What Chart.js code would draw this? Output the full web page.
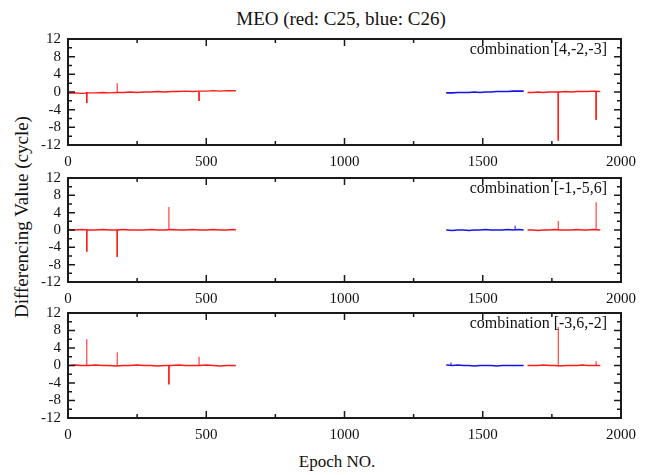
<!DOCTYPE html>
<html>
<head>
<meta charset="utf-8">
<script src="https://cdn.jsdelivr.net/npm/chart.js@4"></script>
<style>
  body { margin: 0; background: #fff; }
  #page { position: relative; width: 651px; height: 475px; overflow: hidden; font-family: "Liberation Serif", "Times New Roman", serif; color: #111; }
  canvas.panel { position: absolute; left: 0; }
  .lbl { position: absolute; white-space: nowrap; text-align: center; }
  #title { left: 0; width: 682px; top: 8px; font-size: 19px; line-height: 22px; }
  #xtitle { left: 0; width: 674px; top: 451px; font-size: 17px; line-height: 22px; }
  #ytitle { left: -128px; width: 300px; top: 206px; font-size: 19px; line-height: 22px; transform: rotate(-90deg); }
</style>
</head>
<body>
<div id="page">
  <div id="title" class="lbl">MEO (red: C25, blue: C26)</div>
  <div id="ytitle" class="lbl">Differencing Value (cycle)</div>
  <div id="xtitle" class="lbl">Epoch NO.</div>
  <canvas id="p1" class="panel" width="651" height="152" style="top:23px"></canvas>
  <canvas id="p2" class="panel" width="651" height="150" style="top:162px"></canvas>
  <canvas id="p3" class="panel" width="651" height="151" style="top:297px"></canvas>
</div>
<script>
// axis ticks
const xMajorTicks = [0, 500, 1000, 1500, 2000];
const xMinorTicks = [250, 750, 1250, 1750];
const yMajorTicks = [-12, -8, -4, 0, 4, 8, 12];
const yMinorTicks = [-10, -6, -2, 2, 6, 10];

// epochs of the three data segments (C25 first arc, C26, C25 second arc)
const redAEpochs = [0, 25, 50, 75, 100, 125, 150, 175, 200, 225, 250, 275, 300, 325, 350, 375, 400, 425, 450, 475, 500, 525, 550, 575, 600, 607];
const blueEpochs = [1368, 1390, 1410, 1430, 1450, 1470, 1490, 1510, 1530, 1550, 1570, 1590, 1610, 1630, 1648];
const redBEpochs = [1662, 1680, 1700, 1720, 1740, 1760, 1780, 1800, 1820, 1840, 1860, 1880, 1900, 1925];

const combos = ['combination [4,-2,-3]', 'combination [-1,-5,6]', 'combination [-3,6,-2]'];

// panel 1
const p1RedA = [-0.3, -0.2, -0.3, -0.2, -0.2, -0.1, -0.2, -0.1, -0.1, 0, -0.1, 0, 0, 0.1, 0, 0.1, 0.1, 0.2, 0.1, 0.2, 0.2, 0.3, 0.2, 0.3, 0.3, 0.3];
const p1Blue = [-0.2, -0.2, -0.1, -0.1, -0.1, 0, -0.1, 0, 0, 0.1, 0.1, 0.1, 0.2, 0.2, 0.2];
const p1RedB = [-0.1, -0.1, 0, -0.1, 0, 0, 0, 0.1, 0, 0.1, 0.1, 0.1, 0.2, 0.1];
const p1SpikeEpochs = [68, 178, 474, 1773, 1910];
const p1SpikeValues = [-2.5, 2, -2, -11, -6.3];

// panel 2
const p2RedA = [0.1, 0, 0.1, 0, 0, 0.1, 0, 0, 0.1, 0, 0, 0, 0.1, 0, 0, 0.1, 0, 0, 0.1, 0, 0, 0.1, 0, 0, 0.1, 0];
const p2Blue = [0, -0.1, 0, 0, -0.1, 0, 0, 0.1, 0, 0, 0, 0.1, 0, 0.1, 0];
const p2RedB = [0, 0, -0.1, 0, 0, 0.1, 0, 0, 0, 0.1, 0, 0, 0.1, 0];
const p2SpikeEpochs = [68, 178, 365, 1617, 1773, 1910];
const p2SpikeValues = [-5, -6.2, 5.3, 1, 2.1, 6.4];

// panel 3
const p3RedA = [0, 0.1, 0, 0, 0.1, 0, 0, -0.1, 0, 0, 0.1, 0, 0, -0.1, 0, 0, 0.1, 0, 0, 0, 0.1, 0, -0.1, 0, 0, 0];
const p3Blue = [0.1, 0, 0.1, 0, 0, -0.1, 0, 0, 0, -0.1, 0, 0, 0, 0, 0];
const p3RedB = [0, 0, 0, 0.1, 0, 0, -0.1, 0, 0, 0, 0.1, 0, 0, 0];
const p3SpikeEpochs = [68, 178, 365, 474, 1385, 1773, 1910];
const p3SpikeValues = [6, 3, -4.3, 2, 0.7, 8.8, 1];

const RED = '#ff1a1a';
const BLUE = '#1414e6';
const FONT = '"Liberation Serif", "Times New Roman", serif';

function points(epochs, values) {
  return epochs.map((e, i) => ({ x: e, y: values[i] }));
}

// each spike is a vertical stroke from the baseline to its value, then a gap
function spikes(epochs, values, keep) {
  const out = [];
  epochs.forEach((e, i) => {
    if (!keep(e)) return;
    out.push({ x: e, y: 0 }, { x: e, y: values[i] }, { x: e, y: null });
  });
  return out;
}
const inBlue = e => e >= blueEpochs[0] && e <= blueEpochs[blueEpochs.length - 1];

const framePlugin = {
  id: 'frame',
  afterDatasetsDraw(chart, args, opts) {
    const { ctx, chartArea: a, scales: { x, y } } = chart;
    ctx.save();
    ctx.strokeStyle = '#1a1a1a';
    ctx.lineWidth = 1.5;
    ctx.beginPath();
    const tick = (px, py, dx, dy) => { ctx.moveTo(px, py); ctx.lineTo(px + dx, py + dy); };
    xMajorTicks.forEach(v => { const p = x.getPixelForValue(v); tick(p, a.bottom, 0, -7); tick(p, a.top, 0, 7); });
    xMinorTicks.forEach(v => { const p = x.getPixelForValue(v); tick(p, a.bottom, 0, -4); tick(p, a.top, 0, 4); });
    yMajorTicks.forEach(v => { const p = y.getPixelForValue(v); tick(a.left, p, 7, 0); tick(a.right, p, -7, 0); });
    yMinorTicks.forEach(v => { const p = y.getPixelForValue(v); tick(a.left, p, 4, 0); tick(a.right, p, -4, 0); });
    ctx.stroke();
    ctx.lineWidth = 2;
    ctx.strokeRect(a.left, a.top, a.right - a.left, a.bottom - a.top);
    ctx.fillStyle = '#111';
    ctx.font = '16px ' + FONT;
    ctx.textAlign = 'right';
    ctx.textBaseline = 'middle';
    ctx.fillText(opts.text, a.right - 14, a.top + 11);
    ctx.restore();
  }
};

function makePanel(id, redA, blue, redB, spikeEpochs, spikeValues, combo) {
  const line = (data, color, w) => ({
    data: data, borderColor: color, borderWidth: w, pointRadius: 0, tension: 0, spanGaps: false, fill: false
  });
  new Chart(document.getElementById(id), {
    type: 'line',
    data: {
      datasets: [
        line(points(redAEpochs, redA), RED, 1.4),
        line(points(blueEpochs, blue), BLUE, 1.6),
        line(points(redBEpochs, redB), RED, 1.4),
        line(spikes(spikeEpochs, spikeValues, e => !inBlue(e)), RED, 1),
        line(spikes(spikeEpochs, spikeValues, inBlue), BLUE, 1)
      ]
    },
    options: {
      responsive: false,
      animation: false,
      events: [],
      layout: { padding: { top: 10, right: 30, left: 0, bottom: 0 } },
      plugins: { legend: { display: false }, tooltip: { enabled: false }, frame: { text: combo } },
      scales: {
        x: {
          type: 'linear', min: 0, max: 2000,
          afterBuildTicks: s => { s.ticks = xMajorTicks.map(v => ({ value: v })); },
          afterFit: s => { s.height = 30; },
          grid: { display: false, drawTicks: false },
          border: { display: false },
          ticks: { autoSkip: false, maxRotation: 0, padding: 8, color: '#111', font: { family: FONT, size: 15 }, callback: v => String(v) }
        },
        y: {
          type: 'linear', min: -12, max: 12,
          afterBuildTicks: s => { s.ticks = yMajorTicks.map(v => ({ value: v })); },
          afterFit: s => { s.width = 68; },
          grid: { display: false, drawTicks: false },
          border: { display: false },
          ticks: { autoSkip: false, padding: 7, color: '#111', font: { family: FONT, size: 15 }, callback: v => String(v) }
        }
      }
    },
    plugins: [framePlugin]
  });
}

makePanel('p1', p1RedA, p1Blue, p1RedB, p1SpikeEpochs, p1SpikeValues, combos[0]);
makePanel('p2', p2RedA, p2Blue, p2RedB, p2SpikeEpochs, p2SpikeValues, combos[1]);
makePanel('p3', p3RedA, p3Blue, p3RedB, p3SpikeEpochs, p3SpikeValues, combos[2]);
</script>
</body>
</html>
